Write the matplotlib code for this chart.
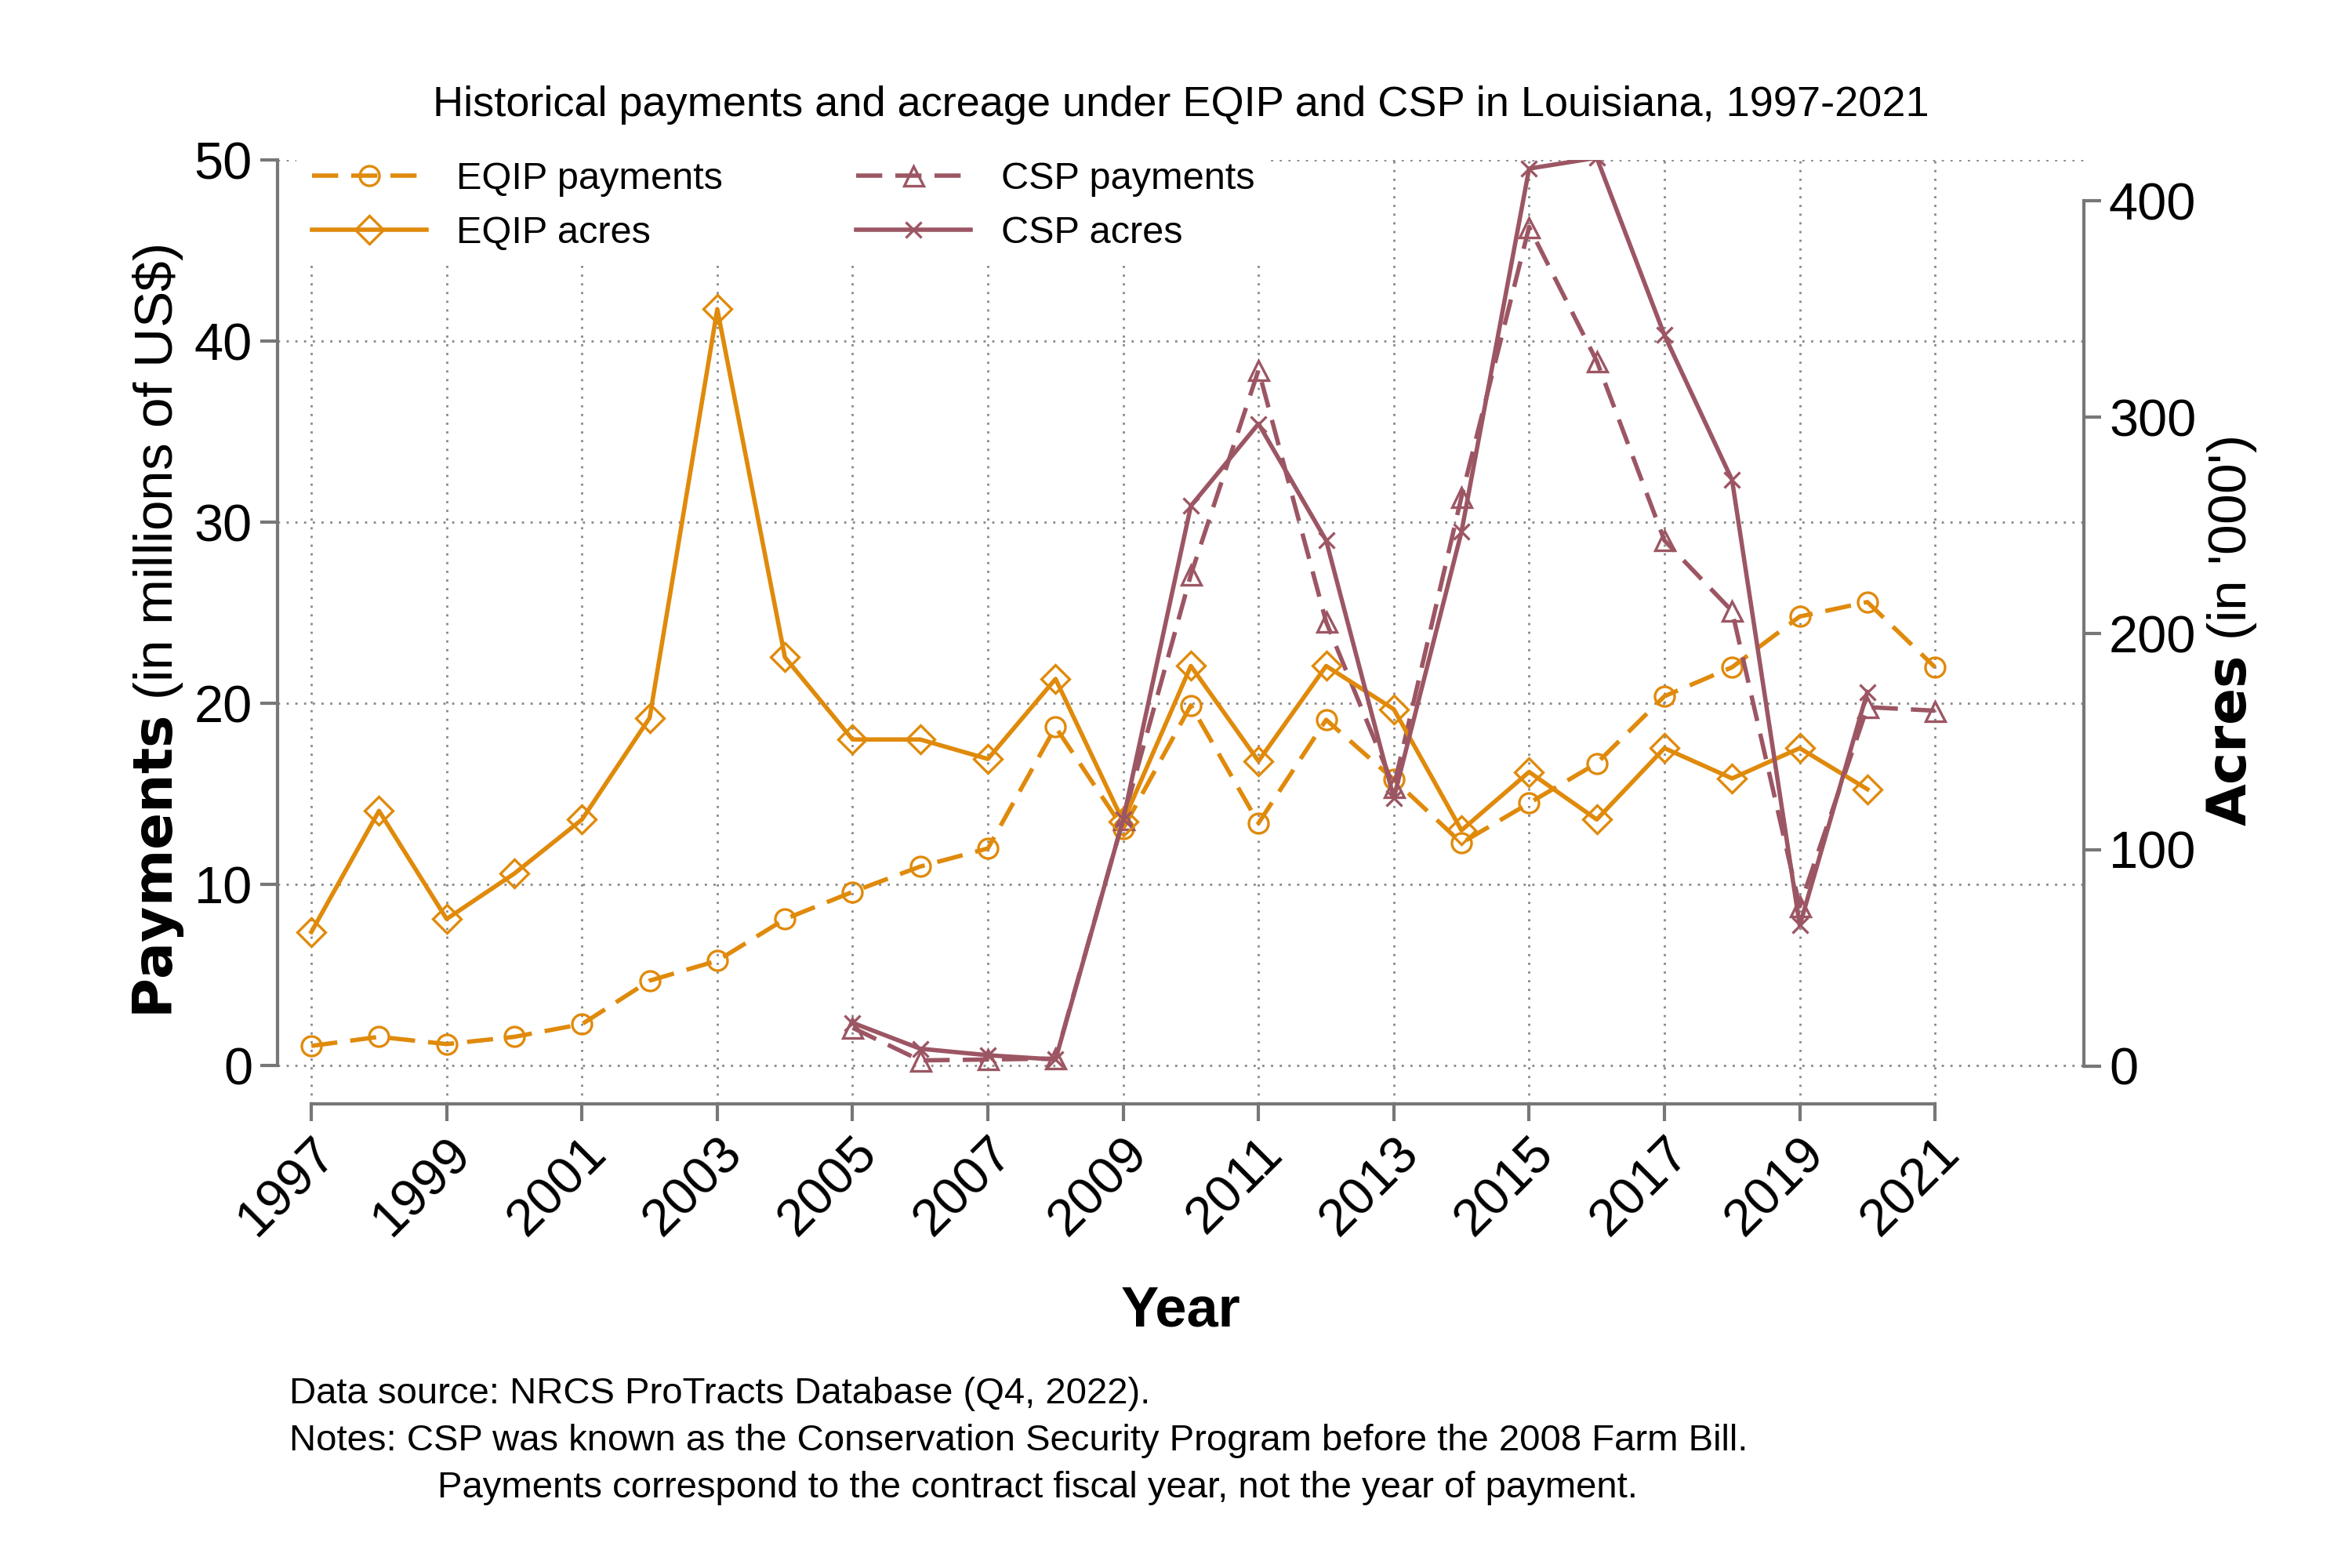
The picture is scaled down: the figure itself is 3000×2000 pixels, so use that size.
import matplotlib
matplotlib.use("Agg")
import matplotlib.pyplot as plt
import numpy as np

years = list(range(1997, 2022))
eqip_pay = [1.1,1.6,1.2,1.6,2.3,4.7,5.8,8.1,9.6,11.0,12.0,18.7,13.1,19.9,13.4,19.1,15.8,12.3,14.5,16.7,20.4,22.0,24.8,25.6,22.0]
eqip_acres = [62,118,68,89,114,161,350,189,151,151,142,179,113,185,141,185,165,109,136,114,147,133,147,128,np.nan]
csp_years = list(range(2005, 2022))
csp_pay = [2.1,0.3,0.35,0.4,13.6,27.1,38.4,24.5,15.4,31.4,46.3,38.9,29.0,25.1,8.8,19.8,19.6]
csp_acres = [20,8,5,3,114,259,297,243,124,247,415,420,338,271,65,173,np.nan]

plt.rcParams['font.family'] = ['Liberation Sans', 'DejaVu Sans']
orange = '#E08A0B'
maroon = '#9C5663'

fig = plt.figure(figsize=(15, 10), dpi=200)
ax = fig.add_axes([0.118, 0.296, 0.768, 0.602])
ax2 = ax.twinx()

ax.plot(years, eqip_pay, color=orange, ls=(0, (6, 3)), lw=2, marker='o', mfc='none', ms=9, mew=1.2, label='EQIP payments')
ax2.plot(years, eqip_acres, color=orange, lw=2, marker='D', mfc='none', ms=9, mew=1.2, label='EQIP acres')
ax.plot(csp_years, csp_pay, color=maroon, ls=(0, (6, 3)), lw=2, marker='^', mfc='none', ms=9, mew=1.2, label='CSP payments')
ax2.plot(csp_years, csp_acres, color=maroon, lw=2, marker='x', ms=7, mew=1.2, label='CSP acres')

ax.set_xlim(1996.5, 2023.2)
ax.set_ylim(-2.1, 50)
ax2.set_ylim(-17.5, 419)
ax.set_yticks([0, 10, 20, 30, 40, 50])
ax2.set_yticks([0, 100, 200, 300, 400])
ax.set_xticks(range(1997, 2022, 2))
ax.set_xticklabels([str(y) for y in range(1997, 2022, 2)], rotation=45, ha='right', rotation_mode='anchor')
for a in (ax, ax2):
    a.tick_params(labelsize=24, length=8, width=1.5, color='#777777')
    a.spines['top'].set_visible(False)
ax.spines['right'].set_visible(False)
ax2.spines['left'].set_visible(False)
ax2.spines['bottom'].set_visible(False)
for s, a in [('left', ax), ('bottom', ax), ('right', ax2)]:
    a.spines[s].set_color('#777777'); a.spines[s].set_linewidth(1.5)
ax.spines['left'].set_bounds(0, 50)
ax.spines['bottom'].set_bounds(1997, 2021)
ax2.spines['right'].set_bounds(0, 400)
ax.grid(True, ls=(0, (1, 3)), color='#888888', lw=1)
ax.set_axisbelow(True)

ax.set_ylabel(r"$\bf{Payments}$ (in millions of US\$)", fontsize=25)
ax2.set_ylabel(r"$\bf{Acres}$ (in '000')", fontsize=25, rotation=90)
ax.set_xlabel('Year', fontsize=26, fontweight='bold', labelpad=18)
ax.set_title('Historical payments and acreage under EQIP and CSP in Louisiana, 1997-2021', fontsize=19.5, pad=20)

h1, l1 = ax.get_legend_handles_labels()
h2, l2 = ax2.get_legend_handles_labels()
handles = [h1[0], h2[0], h1[1], h2[1]]
labels = [l1[0], l2[0], l1[1], l2[1]]
leg = ax.legend(handles, labels, ncol=2, loc='upper left', bbox_to_anchor=(0.0, 1.035), fontsize=17.5,
                frameon=True, facecolor='white', edgecolor='none', framealpha=1, columnspacing=3.5, handlelength=3)
leg.set_zorder(10)

fig.text(0.123, 0.105, 'Data source: NRCS ProTracts Database (Q4, 2022).', fontsize=17)
fig.text(0.123, 0.075, 'Notes: CSP was known as the Conservation Security Program before the 2008 Farm Bill.', fontsize=17)
fig.text(0.186, 0.045, 'Payments correspond to the contract fiscal year, not the year of payment.', fontsize=17)

fig.savefig('out.png', dpi=200, facecolor='white')
